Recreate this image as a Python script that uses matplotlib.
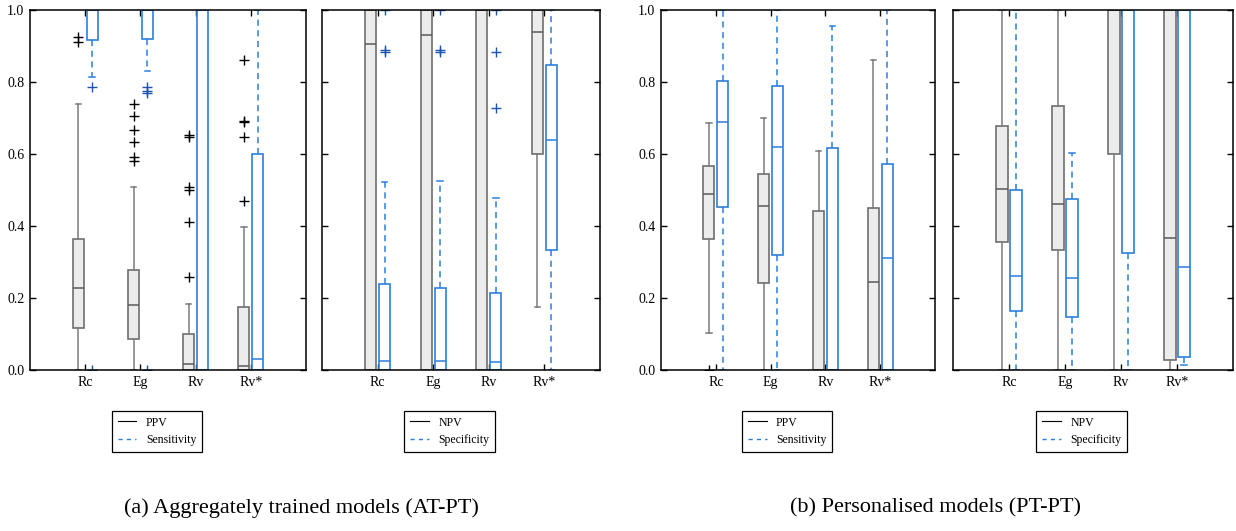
import matplotlib
matplotlib.use("Agg")
import matplotlib.pyplot as plt
from matplotlib.lines import Line2D

plt.rcParams['font.family'] = ['Liberation Serif', 'DejaVu Serif']

labels = ['Rc', 'Eg', 'Rv', 'Rv*']

# each entry: [whislo, q1, med, q3, whishi]
# (a) aggregately trained models
at_ppv = [[0.0, 0.116, 0.227, 0.365, 0.738],
          [0.0, 0.087, 0.180, 0.278, 0.509],
          [0.0, 0.0, 0.016, 0.099, 0.182],
          [0.0, 0.0, 0.012, 0.176, 0.398]]
at_ppv_fliers = [[0.912, 0.926],
                 [0.739, 0.706, 0.667, 0.632, 0.591, 0.581],
                 [0.653, 0.648, 0.509, 0.500, 0.411, 0.259],
                 [0.861, 0.692, 0.688, 0.648, 0.469]]
at_sens = [[0.815, 0.918, 1.0, 1.0, 1.0],
           [0.831, 0.920, 1.0, 1.0, 1.0],
           [0.0, 0.0, 1.0, 1.0, 1.0],
           [0.0, 0.0, 0.030, 0.599, 1.0]]
at_sens_fliers = [[0.785, 0.0], [0.785, 0.776, 0.770, 0.0], [], []]

at_npv = [[0.0, 0.0, 0.906, 1.0, 1.0],
          [0.0, 0.0, 0.931, 1.0, 1.0],
          [0.0, 0.0, 1.0, 1.0, 1.0],
          [0.176, 0.599, 0.938, 1.0, 1.0]]
at_npv_fliers = [[], [], [], []]
at_spec = [[0.0, 0.0, 0.025, 0.238, 0.523],
           [0.0, 0.0, 0.025, 0.229, 0.526],
           [0.0, 0.0, 0.023, 0.215, 0.477],
           [0.0, 0.333, 0.639, 0.848, 1.0]]
at_spec_fliers = [[0.889, 0.884, 1.0], [0.889, 0.884, 1.0], [0.882, 0.727, 1.0], []]

# (b) personalised models
pt_ppv = [[0.102, 0.363, 0.488, 0.567, 0.687],
          [0.0, 0.241, 0.455, 0.544, 0.699],
          [0.0, 0.0, 0.0, 0.443, 0.609],
          [0.0, 0.0, 0.245, 0.451, 0.861]]
pt_ppv_fliers = [[0.0], [], [], []]
pt_sens = [[0.0, 0.452, 0.689, 0.802, 1.0],
           [0.0, 0.319, 0.620, 0.789, 1.0],
           [0.0, 0.0, 0.0, 0.617, 0.956],
           [0.0, 0.0, 0.310, 0.572, 1.0]]
pt_sens_fliers = [[], [], [], []]

pt_npv = [[0.0, 0.356, 0.504, 0.679, 1.0],
          [0.0, 0.333, 0.461, 0.733, 1.0],
          [0.0, 0.599, 1.0, 1.0, 1.0],
          [0.0, 0.028, 0.368, 1.0, 1.0]]
pt_npv_fliers = [[], [], [], []]
pt_spec = [[0.0, 0.165, 0.261, 0.500, 1.0],
           [0.0, 0.148, 0.255, 0.476, 0.602],
           [0.0, 0.324, 1.0, 1.0, 1.0],
           [0.015, 0.035, 0.287, 1.0, 1.0]]
pt_spec_fliers = [[], [], [], []]

captions = ['(a) Aggregately trained models (AT-PT)', '(b) Personalised models (PT-PT)']

gray_edge = '#6e6e6e'
gray_face = '#ececec'
blue = '#2a7fdc'
dark_blue = '#1c55b0'


def make_stats(rows, fliers):
    out = []
    for r, f in zip(rows, fliers):
        out.append(dict(whislo=r[0], q1=r[1], med=r[2], q3=r[3], whishi=r[4], fliers=f))
    return out


def draw_panel(ax, s1, f1, s2, f2, name1, name2, ylabels):
    pos = range(1, len(labels) + 1)
    ax.bxp(make_stats(s1, f1), positions=[p - 0.125 for p in pos], widths=0.2,
           patch_artist=True, manage_ticks=False,
           boxprops=dict(facecolor=gray_face, edgecolor=gray_edge, linewidth=1.2),
           whiskerprops=dict(color='#7a7a7a', linewidth=1.1, linestyle='-'),
           capprops=dict(color='#7a7a7a', linewidth=1.1),
           medianprops=dict(color='#5a5a5a', linewidth=1.1),
           flierprops=dict(marker='+', markeredgecolor='black', markersize=6.5, markeredgewidth=1))
    ax.bxp(make_stats(s2, f2), positions=[p + 0.125 for p in pos], widths=0.2,
           patch_artist=True, manage_ticks=False,
           boxprops=dict(facecolor='white', edgecolor=blue, linewidth=1.2),
           whiskerprops=dict(color=blue, linewidth=1.1, linestyle=(0, (4, 3))),
           capprops=dict(color=blue, linewidth=1.1),
           medianprops=dict(color=blue, linewidth=1.1),
           flierprops=dict(marker='+', markeredgecolor=dark_blue, markersize=6.5, markeredgewidth=1))
    ax.set_xlim(0, 5)
    ax.set_ylim(0, 1)
    ax.set_xticks(list(pos))
    ax.set_xticklabels(labels, fontsize=10)
    ax.set_yticks([0, 0.2, 0.4, 0.6, 0.8, 1.0])
    if ylabels:
        ax.set_yticklabels(['0.0', '0.2', '0.4', '0.6', '0.8', '1.0'], fontsize=10)
    else:
        ax.set_yticklabels([])
    ax.tick_params(direction='in', top=True, right=True, length=4, width=1, pad=4)
    for sp in ax.spines.values():
        sp.set_linewidth(1.1)
    handles = [Line2D([], [], color='black', linewidth=0.8),
               Line2D([], [], color=blue, linewidth=1, linestyle=(0, (3, 3)))]
    leg = ax.legend(handles, [name1, name2], loc='center', bbox_to_anchor=(0.46, -0.17),
                    fontsize=8.5, fancybox=False, edgecolor='black', framealpha=1,
                    handlelength=1.6, borderpad=0.5, labelspacing=0.45)
    leg.get_frame().set_linewidth(0.9)


fig = plt.figure(figsize=(12.36, 5.31), dpi=100)
ax1 = fig.add_axes([30 / 1236, 161 / 531, 276 / 1236, 360 / 531])
ax2 = fig.add_axes([322 / 1236, 161 / 531, 278 / 1236, 360 / 531])
ax3 = fig.add_axes([661 / 1236, 161 / 531, 274 / 1236, 360 / 531])
ax4 = fig.add_axes([953 / 1236, 161 / 531, 280 / 1236, 360 / 531])

draw_panel(ax1, at_ppv, at_ppv_fliers, at_sens, at_sens_fliers, 'PPV', 'Sensitivity', True)
draw_panel(ax2, at_npv, at_npv_fliers, at_spec, at_spec_fliers, 'NPV', 'Specificity', False)
draw_panel(ax3, pt_ppv, pt_ppv_fliers, pt_sens, pt_sens_fliers, 'PPV', 'Sensitivity', True)
draw_panel(ax4, pt_npv, pt_npv_fliers, pt_spec, pt_spec_fliers, 'NPV', 'Specificity', False)

fig.text(301 / 1236, 0.043, captions[0], ha='center', va='center', fontsize=16)
fig.text(935 / 1236, 0.043, captions[1], ha='center', va='center', fontsize=16)

fig.savefig('out.png', dpi=100)
